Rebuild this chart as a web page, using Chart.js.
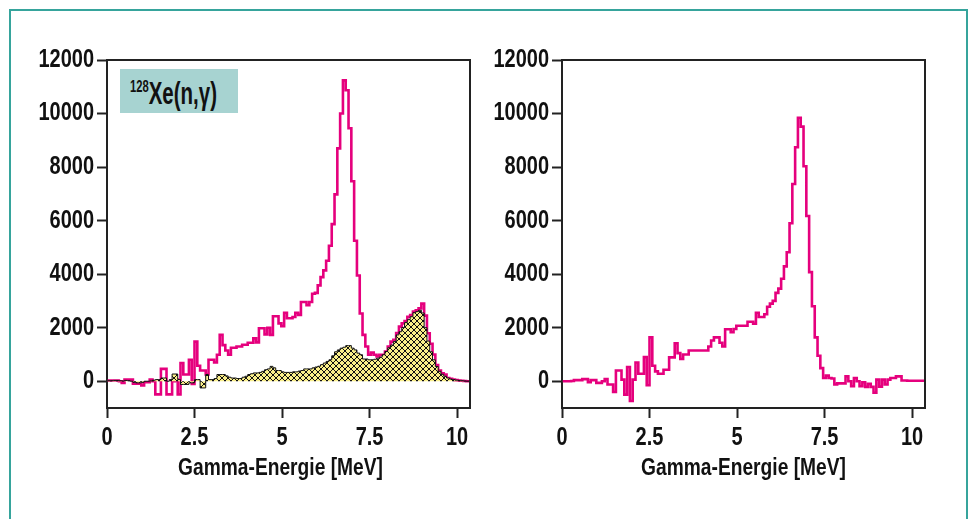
<!DOCTYPE html>
<html>
<head>
<meta charset="utf-8">
<script src="https://cdn.jsdelivr.net/npm/chart.js@4.4.0/dist/chart.umd.min.js"></script>
<style>
  body { margin: 0; background: #fff; }
  #wrap { position: relative; width: 976px; height: 519px; overflow: hidden; background: #fff; }
  #frame { position: absolute; left: 9px; top: 9px; width: 955px; height: 540px; border: 2px solid #36a49c; }
  canvas { position: absolute; top: 0; }
  #tag {
    position: absolute; left: 120px; top: 69px; width: 118px; height: 44px;
    background: #a7d3d1; color: #111; overflow: hidden;
  }
  #tag span {
    position: absolute; left: 10px; top: 7px; white-space: nowrap;
    font: bold 31px 'Liberation Sans', Arial, sans-serif; line-height: 36px;
    transform: scaleX(0.66); transform-origin: 0 50%;
  }
  #tag sup { font-size: 17px; vertical-align: 12px; line-height: 0; }
</style>
</head>
<body>
<div id="wrap">
  <div id="frame"></div>
  <canvas id="left" width="480" height="519" style="left:0"></canvas>
  <canvas id="right" width="496" height="519" style="left:480px"></canvas>
  <div id="tag"><span><sup>128</sup>Xe(n,γ)</span></div>
</div>
<script>
// histogram bins in MeV
const binStart = 0.02;
const binWidth = 0.08;

// left panel: total spectrum (magenta)
const totalLeft = [
  25, 25, 25, 25, 0, -60, 60, 60, 60, -90,
  -90, -90, -160, -40, -40, 60, 0, -490, -490, 460,
  460, -490, -490, 0, 60, -490, 680, 250, 250, 800,
  -100, 1480, 580, 400, 400, 250, 800, 800, 700, 990,
  1730, 1350, 1150, 990, 1250, 1250, 1300, 1300, 1360, 1360,
  1440, 1440, 1600, 1450, 1980, 1980, 1750, 2000, 1730, 2430,
  2430, 2160, 2060, 2560, 2350, 2350, 2400, 2560, 2480, 2960,
  2960, 2840, 2960, 3270, 3300, 3580, 3890, 4140, 4500, 5060,
  5870, 6980, 8700, 10000, 11240, 10870, 9450, 7470, 5250, 3950,
  2530, 1730, 1300, 990, 1070, 990, 930, 990, 990, 1110,
  1300, 1480, 1550, 1800, 2040, 2160, 2250, 2410, 2470, 2600,
  2650, 2720, 2900, 2450, 1790, 1400, 1000, 600, 400, 300,
  250, 120, 90, 60, 40, 30, 20, 10, 0, 0
];

// left panel: hatched yellow component
const yellowLeft = [
  20, 20, 30, 30, 20, 10, 30, 20, 0, -40,
  -60, -60, -40, 0, 0, 10, 40, 60, 60, 120,
  120, 0, 60, 270, 270, 60, -120, -120, -120, -60,
  -60, 60, 60, -250, -250, 250, 60, 60, 100, 250,
  250, 250, 200, 150, 120, 120, 100, 100, 150, 185,
  250, 280, 310, 310, 330, 370, 430, 460, 555, 500,
  400, 400, 350, 330, 330, 330, 350, 350, 380, 400,
  460, 460, 460, 500, 530, 560, 620, 680, 740, 800,
  950, 1100, 1170, 1235, 1270, 1330, 1330, 1235, 1170, 1050,
  990, 830, 830, 800, 800, 820, 860, 900, 990, 1110,
  1250, 1350, 1480, 1730, 1850, 2010, 2190, 2300, 2410, 2560,
  2600, 2650, 2550, 2000, 1500, 1100, 800, 550, 370, 260,
  185, 120, 80, 60, 40, 30, 20, 10, 0, 0
];

// right panel spectrum
const diffRight = [
  0, 0, 0, 10, 40, 40, 40, 80, 80, -40,
  40, 40, -60, -60, 0, 80, -120, -120, -400, 400,
  400, 60, -500, 530, -740, 60, 700, 280, 280, 900,
  -150, 1640, 580, 370, 280, 280, 430, 430, 890, 890,
  1420, 1050, 830, 1000, 1000, 1150, 1150, 1150, 1150, 1150,
  1150, 1150, 1300, 1520, 1640, 1640, 1440, 1300, 1940, 1940,
  1830, 1950, 2075, 2075, 2075, 2075, 2220, 2220, 2150, 2560,
  2400, 2400, 2500, 2780, 2900, 3000, 3300, 3460, 3830, 4290,
  4820, 5900, 7370, 8740, 9840, 9510, 8030, 6175, 4075, 2800,
  1640, 950, 490, 120, 210, 120, 100, -120, -80, -80,
  -80, 185, 0, -185, 120, 0, -185, -40, -210, -100,
  -210, -430, 60, -200, 60, -120, 60, 120, 120, 180,
  180, 30, 30, 20, 20, 20, 20, 20, 20, 20
];

const xTicks = [0, 2.5, 5, 7.5, 10];
const yTicks = [0, 2000, 4000, 6000, 8000, 10000, 12000];
const xTitle = 'Gamma-Energie [MeV]';

const fam = "'Liberation Sans', Arial, sans-serif";
const ink = '#111';
const magenta = '#e5007d';

// squeeze canvas text horizontally (condensed look)
function condense(canvas, k) {
  const ctx = canvas.getContext('2d');
  const fill = ctx.fillText.bind(ctx);
  ctx.fillText = function (text, x, y, maxWidth) {
    const w = ctx.measureText(text).width * k;
    fill(text, x, y, maxWidth === undefined ? w : Math.min(maxWidth, w));
  };
  return canvas;
}

// bin edges -> step points
function steps(vals) {
  const pts = vals.map((v, i) => ({ x: binStart + i * binWidth, y: v }));
  pts.push({ x: binStart + vals.length * binWidth, y: vals[vals.length - 1] });
  return pts;
}

function hatch() {
  const c = document.createElement('canvas');
  c.width = 6; c.height = 6;
  const g = c.getContext('2d');
  g.fillStyle = '#faef8a';
  g.fillRect(0, 0, 6, 6);
  g.strokeStyle = '#111';
  g.lineWidth = 1;
  g.beginPath();
  g.moveTo(-1, -1); g.lineTo(7, 7);
  g.moveTo(7, -1); g.lineTo(-1, 7);
  g.stroke();
  return g.createPattern(c, 'repeat');
}

// top + right frame lines
const boxPlugin = {
  id: 'box',
  afterDraw(chart) {
    const a = chart.chartArea, c = chart.ctx;
    c.save();
    c.strokeStyle = '#222';
    c.lineWidth = 2;
    c.beginPath();
    c.moveTo(a.left, a.top);
    c.lineTo(a.right, a.top);
    c.lineTo(a.right, a.bottom);
    c.stroke();
    c.restore();
  }
};

function options(yWidth, padRight, titleText) {
  return {
    responsive: false,
    animation: false,
    layout: { padding: { left: 0, right: padRight, top: 60, bottom: 36 } },
    plugins: { legend: { display: false }, tooltip: { enabled: false } },
    scales: {
      x: {
        type: 'linear', min: 0, max: 10.37,
        afterBuildTicks: s => { s.ticks = xTicks.map(v => ({ value: v })); },
        afterFit: s => { s.height = 75; },
        grid: { drawOnChartArea: false, tickLength: 10, tickWidth: 2, tickColor: '#222' },
        border: { color: '#222', width: 2 },
        ticks: { color: ink, padding: 5, maxRotation: 0, autoSkip: false,
                 font: { family: fam, size: 25, weight: 'bold' },
                 callback: v => String(v) },
        title: { display: true, text: titleText, color: ink, padding: 0,
                 font: { family: fam, size: 24, weight: 'bold' } }
      },
      y: {
        type: 'linear', min: -1000, max: 12000,
        afterBuildTicks: s => { s.ticks = yTicks.map(v => ({ value: v })); },
        afterFit: s => { s.width = yWidth; },
        grid: { drawOnChartArea: false, tickLength: 10, tickWidth: 2, tickColor: '#222' },
        border: { color: '#222', width: 2 },
        ticks: { color: ink, padding: 3, font: { family: fam, size: 25, weight: 'bold' },
                 callback: v => String(v) }
      }
    }
  };
}

const lineBase = { pointRadius: 0, tension: 0, stepped: true, borderJoinStyle: 'miter' };

// left title sits a little left of the plot centre in the original
new Chart(condense(document.getElementById('left'), 0.8), {
  type: 'line',
  data: {
    datasets: [
      Object.assign({ data: steps(yellowLeft), borderColor: '#111', borderWidth: 1,
                      backgroundColor: hatch(), fill: 'origin', order: 0 }, lineBase),
      Object.assign({ data: steps(totalLeft), borderColor: magenta, borderWidth: 2.6,
                      fill: false, order: 1 }, lineBase)
    ]
  },
  options: options(107, 10, xTitle + '   '),
  plugins: [boxPlugin]
});

new Chart(condense(document.getElementById('right'), 0.8), {
  type: 'line',
  data: {
    datasets: [
      Object.assign({ data: steps(diffRight), borderColor: magenta, borderWidth: 2.6,
                      fill: false }, lineBase)
    ]
  },
  options: options(82, 51, xTitle),
  plugins: [boxPlugin]
});
</script>
</body>
</html>
